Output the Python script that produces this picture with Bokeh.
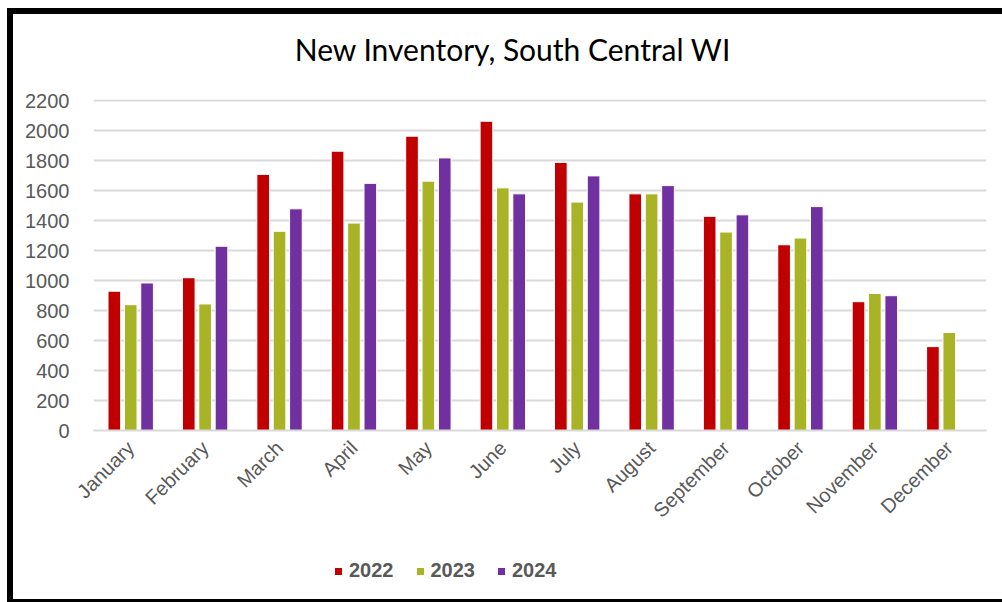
from math import pi

from bokeh.embed import file_html
from bokeh.layouts import column
from bokeh.models import (ColumnDataSource, FactorRange, FixedTicker, Label,
                          Legend, LegendItem, Range1d)
from bokeh.plotting import figure
from bokeh.resources import INLINE
from bokeh.transform import dodge

# Monthly new listings, South Central Wisconsin
months = ["January", "February", "March", "April", "May", "June",
          "July", "August", "September", "October", "November", "December"]
inv_2022 = [930, 1020, 1710, 1865, 1965, 2065, 1790, 1580, 1430, 1240, 860, 560]
inv_2023 = [840, 845, 1330, 1385, 1665, 1620, 1525, 1580, 1325, 1285, 915, 655]
inv_2024 = [985, 1230, 1480, 1650, 1820, 1580, 1700, 1635, 1440, 1495, 900, float("nan")]
years = ["2022", "2023", "2024"]
y_ticks = [0, 200, 400, 600, 800, 1000, 1200, 1400, 1600, 1800, 2000, 2200]
chart_title = "New Inventory, South Central WI"

colors = {"2022": "#C00000", "2023": "#A8B425", "2024": "#7030A0"}
offsets = {"2022": -0.22, "2023": 0.0, "2024": 0.22}


def strip(height):
    """A blank full-width band used for the heading and the key."""
    f = figure(width=989, height=height, x_range=Range1d(0, 1), y_range=Range1d(0, 1),
               x_axis_type=None, y_axis_type=None, output_backend="svg",
               toolbar_location=None, min_border_left=80, min_border_right=16,
               min_border_top=0, min_border_bottom=0)
    f.grid.visible = False
    f.outline_line_color = None
    return f


# heading band
head = strip(73)
head.add_layout(Label(x=419.5, y=39, x_units="screen", y_units="screen",
                      text=chart_title, text_align="center", text_baseline="alphabetic",
                      text_font="Lato", text_font_size="30px", text_color="#000000"))

# main bar chart
source = ColumnDataSource(data=dict(month=months, y2022=inv_2022,
                                    y2023=inv_2023, y2024=inv_2024))

p = figure(x_range=FactorRange(*months), y_range=Range1d(0, 2210),
           width=989, height=457, output_backend="svg", toolbar_location=None,
           min_border_left=80, min_border_right=16,
           min_border_top=12, min_border_bottom=114)

for yr in years:
    p.vbar(x=dodge("month", offsets[yr], range=p.x_range),
           top="y" + yr, width=0.17, source=source,
           fill_color=colors[yr], line_color="white", line_width=1)

# y axis: labels only, horizontal grid lines
p.yaxis.ticker = FixedTicker(ticks=y_ticks)
p.yaxis.axis_line_color = None
p.yaxis.major_tick_line_color = None
p.yaxis.minor_tick_line_color = None
p.yaxis.major_label_text_font = "Liberation Sans"
p.yaxis.major_label_text_font_size = "20px"
p.yaxis.major_label_text_color = "#595959"
p.yaxis.major_label_standoff = 18

# x axis: slanted month names
p.xaxis.axis_line_color = "#D9D9D9"
p.xaxis.axis_line_width = 2
p.xaxis.major_tick_line_color = None
p.xaxis.minor_tick_line_color = None
p.xaxis.major_label_orientation = pi / 4
p.xaxis.major_label_text_font = "Liberation Sans"
p.xaxis.major_label_text_font_size = "20px"
p.xaxis.major_label_text_color = "#595959"
p.xaxis.major_label_standoff = 8

p.xgrid.grid_line_color = None
p.ygrid.grid_line_color = "#D9D9D9"
p.ygrid.grid_line_width = 2
p.outline_line_color = None

# key band: one flat swatch glyph per year feeds the legend
key = strip(55)
swatches = {yr: key.vbar(x=[0.5], top=[0], bottom=[0], width=0.1, fill_color=colors[yr],
                         line_color="white", line_width=1) for yr in years}

legend = Legend(items=[LegendItem(label=yr, renderers=[swatches[yr]]) for yr in years],
                orientation="horizontal", location=(240, 17),
                glyph_width=10, glyph_height=10, label_standoff=6, spacing=21,
                label_text_font="Liberation Sans", label_text_font_style="bold",
                label_text_font_size="20px", label_text_color="#595959",
                padding=0, margin=0, border_line_color=None, background_fill_alpha=0)
key.add_layout(legend)

page = column(head, p, key, spacing=0,
              styles={"margin-left": "7px", "margin-top": "8px",
                      "border-left": "6px solid #000000",
                      "border-top": "6px solid #000000",
                      "border-bottom": "3px solid #000000"})

open("out.html", "w").write(file_html(page, INLINE))
